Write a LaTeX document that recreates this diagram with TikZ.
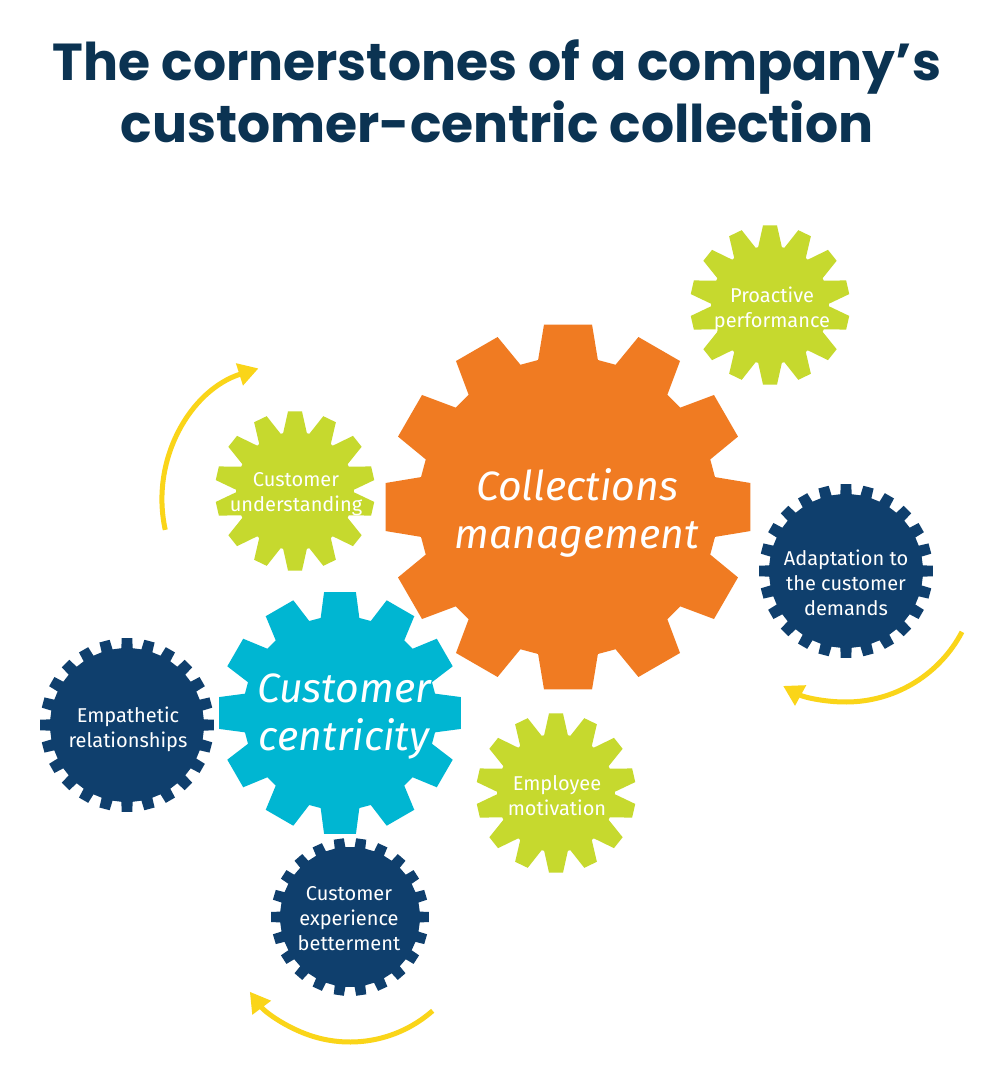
\documentclass[tikz,border=0pt]{standalone}
\usepackage{fontspec}
\setmainfont{Fira Sans}
\newfontfamily\titlefont{Poppins}
\usetikzlibrary{arrows.meta,calc}

\definecolor{titleblue}{HTML}{0B3352}
\definecolor{gearorange}{HTML}{F07B22}
\definecolor{gearcyan}{HTML}{00B6D2}
\definecolor{gearlime}{HTML}{C6D92E}
\definecolor{gearnavy}{HTML}{0F3F6D}
\definecolor{arrowyellow}{HTML}{FAD519}

\tikzset{
  pics/gear/.style args={#1/#2/#3/#4/#5}{% teeth/root/tip/base half angle/tip half angle
    code={
      \pgfmathsetmacro\gstep{360/#1}
      \fill (-#4:#2) \foreach \k in {1,...,#1}{
          -- ({(\k-1)*\gstep-#4}:#2) -- ({(\k-1)*\gstep-#5}:#3)
          -- ({(\k-1)*\gstep+#5}:#3) -- ({(\k-1)*\gstep+#4}:#2)
        } -- cycle;
    }
  }
}

\begin{document}
\begin{tikzpicture}[
        x                   = 1pt,
        y                   = -1pt,
        titletext/.style    = {text=titleblue, align=center, font=\titlefont\bfseries\fontsize{52}{62}\selectfont},
        biglabel/.style     = {text=white, align=center, font=\itshape\fontsize{41}{48}\selectfont},
        smalllabel/.style   = {text=white, align=center, font=\fontsize{20}{25}\selectfont},
        limegear/.style     = {fill=gearlime, rotate=12.86},
        turnarrow/.style    = {draw=arrowyellow, line width=5pt, -{Triangle[length=20pt, width=22pt]}}
      ]
    \fill[white] (0,0) rectangle (1000,1073);
    \useasboundingbox (0,0) rectangle (1000,1073);

    \node[titletext] (title) at (497,91) {The cornerstones of a company’s\\customer-centric collection};

    % big gears
    \pic[fill=gearorange] (mgmt) at (568,507) {gear=12/150/184/11.5/7.5};
    \pic[fill=gearcyan]   (centr) at (340,713) {gear=12/97/122/11.5/7.5};
    % lime gears
    \pic[limegear] (underst) at (295,491) {gear=14/59/80/11.6/5};
    \pic[limegear] (proact) at (770,305) {gear=14/59/80/11.6/5};
    \pic[limegear] (motiv) at (556,793) {gear=14/59/80/11.6/5};
    % navy gears
    \pic[fill=gearnavy] (empath) at (127,725) {gear=24/77/87/4.2/3.5};
    \pic[fill=gearnavy] (adapt) at (846,571) {gear=24/77/87/4.2/3.5};
    \pic[fill=gearnavy] (better) at (350,917) {gear=22/70/79/4.4/3.7};

    \node[biglabel] (mgmtlabel) at (577,513) {Collections\\management};
    \node[biglabel] (centrlabel) at (344,716) {Customer\\centricity};
    \node[smalllabel] (unlabel) at (296,494) {Customer\\understanding};
    \node[smalllabel] (prlabel) at (772,309) {Proactive\\performance};
    \node[smalllabel] (adlabel) at (846,583) {Adaptation to\\the customer\\demands};
    \node[smalllabel] (emlabel) at (128,729) {Empathetic\\relationships};
    \node[smalllabel] (molabel) at (557,796) {Employee\\motivation};
    \node[smalllabel] (belabel) at (349,919) {Customer\\experience\\betterment};

    % turning arrows
    \coordinate (arcAc) at (300,500);
    \coordinate (arcBc) at (846,571);
    \coordinate (arcCc) at (350,917);
    \coordinate (arcA) at ($(arcAc)+(167.5:138)$);
    \coordinate (arcB) at ($(arcBc)+(27.7:131)$);
    \coordinate (arcC) at ($(arcCc)+(48.6:125)$);
    \draw[turnarrow] (arcA) arc[start angle=167.5, end angle=252.5, radius=138];
    \draw[turnarrow] (arcB) arc[start angle=27.7, end angle=118.7, radius=131];
    \draw[turnarrow] (arcC) arc[start angle=48.6, end angle=143.3, radius=125];
\end{tikzpicture}
\end{document}
